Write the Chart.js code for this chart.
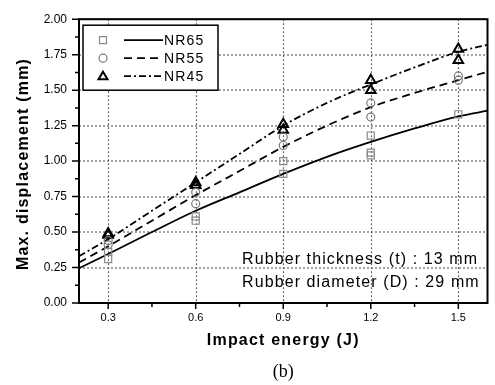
<!DOCTYPE html>
<html>
<head>
<meta charset="utf-8">
<script src="https://cdn.jsdelivr.net/npm/chart.js@4.4.0/dist/chart.umd.min.js"></script>
<style>
  html, body { margin: 0; padding: 0; background: #fff; }
  #wrap { position: relative; width: 495px; height: 385px; }
</style>
</head>
<body>
<div id="wrap"><canvas id="chart"></canvas></div>
<script>
// axis ticks
const xTicks = [0.3, 0.6, 0.9, 1.2, 1.5];
const xMinorTicks = [0.45, 0.75, 1.05, 1.35];
const yTicks = [0, 0.25, 0.5, 0.75, 1.0, 1.25, 1.5, 1.75, 2.0];
const yMinorTicks = [0.125, 0.375, 0.625, 0.875, 1.125, 1.375, 1.625, 1.875];

// fitted curves
const fitEnergy = [0.2, 0.3, 0.45, 0.6, 0.75, 0.9, 1.05, 1.2, 1.35, 1.5, 1.6];
const fitNR65 = [0.245, 0.345, 0.50, 0.65, 0.78, 0.91, 1.03, 1.135, 1.23, 1.315, 1.355];
const fitNR55 = [0.285, 0.40, 0.58, 0.76, 0.93, 1.10, 1.25, 1.38, 1.48, 1.57, 1.63];
const fitNR45 = [0.33, 0.45, 0.65, 0.85, 1.05, 1.25, 1.41, 1.54, 1.66, 1.77, 1.82];

// measured points
const nr65Energy = [0.3, 0.3, 0.6, 0.6, 0.9, 0.9, 1.2, 1.2, 1.2, 1.5];
const nr65Disp = [0.36, 0.31, 0.61, 0.58, 1.00, 0.91, 1.18, 1.06, 1.04, 1.33];
const nr55Energy = [0.3, 0.3, 0.6, 0.6, 0.9, 0.9, 1.2, 1.2, 1.5, 1.5];
const nr55Disp = [0.44, 0.41, 0.78, 0.70, 1.17, 1.11, 1.41, 1.31, 1.60, 1.57];
const nr45Energy = [0.3, 0.3, 0.6, 0.6, 0.9, 0.9, 1.2, 1.2, 1.5, 1.5];
const nr45Disp = [0.49, 0.48, 0.85, 0.83, 1.26, 1.22, 1.57, 1.50, 1.79, 1.71];

const series = ['NR65', 'NR55', 'NR45'];
const notes = ['Rubber thickness (t) : 13 mm', 'Rubber diameter (D) : 29 mm'];

const pts = (xs, ys) => xs.map((v, i) => ({ x: v, y: ys[i] }));
const FONT = "'Liberation Sans', Arial, sans-serif";

const lineDash = [[], [8, 5], [7, 3, 2, 3]];
const markerColor = ['#8a8a8a', '#7a7a7a', '#000'];

function fitSet(data, dash) {
    return { type: 'line', data: pts(fitEnergy, data), borderColor: '#000', borderWidth: 1.8, borderDash: dash,
        pointRadius: 0, fill: false, cubicInterpolationMode: 'monotone', order: 2 };
}
function measSet(xs, ys, style, color, r, w) {
    return { type: 'scatter', data: pts(xs, ys), pointStyle: style, pointRadius: r, pointHoverRadius: r,
        borderColor: color, backgroundColor: 'rgba(0,0,0,0)', pointBorderWidth: w, order: 1 };
}

function drawMarker(ctx, kind, cx, cy) {
    ctx.beginPath();
    if (kind === 0) {
        ctx.strokeStyle = markerColor[0]; ctx.lineWidth = 1.2;
        ctx.rect(cx - 3.5, cy - 3.5, 7, 7);
    } else if (kind === 1) {
        ctx.strokeStyle = markerColor[1]; ctx.lineWidth = 1.2;
        ctx.arc(cx, cy, 4, 0, Math.PI * 2);
    } else {
        ctx.strokeStyle = markerColor[2]; ctx.lineWidth = 2;
        ctx.moveTo(cx, cy - 4.5); ctx.lineTo(cx + 4.5, cy + 3); ctx.lineTo(cx - 4.5, cy + 3); ctx.closePath();
    }
    ctx.stroke();
}

// dotted grid under the data
const dottedGrid = {
    id: 'dottedGrid',
    beforeDatasetsDraw(chart) {
        const { ctx, chartArea: a, scales } = chart;
        ctx.save();
        ctx.strokeStyle = '#666';
        ctx.lineWidth = 1.2;
        ctx.setLineDash([2, 2]);
        xTicks.forEach(v => {
            const p = Math.round(scales.x.getPixelForValue(v)) + 0.5;
            ctx.beginPath(); ctx.moveTo(p, a.top); ctx.lineTo(p, a.bottom); ctx.stroke();
        });
        yTicks.forEach(v => {
            const p = Math.round(scales.y.getPixelForValue(v));
            ctx.beginPath(); ctx.moveTo(a.left, p); ctx.lineTo(a.right, p); ctx.stroke();
        });
        ctx.restore();
    }
};

const extras = {
    id: 'extras',
    afterDraw(chart) {
        const { ctx, chartArea: a, scales: { x, y } } = chart;
        ctx.save();
        ctx.setLineDash([]);
        ctx.strokeStyle = '#000';
        ctx.lineWidth = 2;
        ctx.strokeRect(a.left, a.top, a.right - a.left, a.bottom - a.top);

        // tick marks
        ctx.lineWidth = 1.5;
        ctx.beginPath();
        yTicks.forEach(v => { const p = y.getPixelForValue(v); ctx.moveTo(a.left - 7, p); ctx.lineTo(a.left, p); });
        yMinorTicks.forEach(v => { const p = y.getPixelForValue(v); ctx.moveTo(a.left - 4, p); ctx.lineTo(a.left, p); });
        xTicks.forEach(v => { const p = x.getPixelForValue(v); ctx.moveTo(p, a.bottom); ctx.lineTo(p, a.bottom + 6); });
        xMinorTicks.forEach(v => { const p = x.getPixelForValue(v); ctx.moveTo(p, a.bottom); ctx.lineTo(p, a.bottom + 4); });
        ctx.stroke();

        // legend
        const lx = a.left + 4, ly = a.top + 6;
        ctx.fillStyle = '#fff';
        ctx.fillRect(lx, ly, 135, 65);
        ctx.lineWidth = 1.5;
        ctx.strokeRect(lx, ly, 135, 65);
        ctx.font = '14px ' + FONT;
        ctx.letterSpacing = '1.2px';
        ctx.textBaseline = 'middle';
        ctx.textAlign = 'left';
        series.forEach((name, i) => {
            const ry = ly + 15 + i * 18;
            drawMarker(ctx, i, lx + 20, ry);
            ctx.beginPath();
            ctx.strokeStyle = '#000';
            ctx.lineWidth = 1.8;
            ctx.setLineDash(lineDash[i]);
            ctx.moveTo(lx + 41, ry); ctx.lineTo(lx + 80, ry);
            ctx.stroke();
            ctx.setLineDash([]);
            ctx.fillStyle = '#000';
            ctx.fillText(name, lx + 81, ry + 1);
        });

        // notes
        ctx.font = '16px ' + FONT;
        ctx.letterSpacing = '1.1px';
        ctx.fillStyle = '#000';
        notes.forEach((t, i) => ctx.fillText(t, 242, 260 + i * 23));

        // axis titles
        ctx.font = 'bold 16px ' + FONT;
        ctx.letterSpacing = '1.2px';
        ctx.textAlign = 'center';
        ctx.fillText('Impact energy (J)', (a.left + a.right) / 2, 341);
        ctx.save();
        ctx.translate(24, 164);
        ctx.rotate(-Math.PI / 2);
        ctx.fillText('Max. displacement (mm)', 0, 0);
        ctx.restore();

        ctx.letterSpacing = '0px';
        ctx.font = "18px 'Liberation Serif', 'Times New Roman', serif";
        ctx.fillText('(b)', (a.left + a.right) / 2, 372);
        ctx.restore();
    }
};

new Chart(document.getElementById('chart'), {
    type: 'scatter',
    data: {
        datasets: [
            fitSet(fitNR65, lineDash[0]),
            fitSet(fitNR55, lineDash[1]),
            fitSet(fitNR45, lineDash[2]),
            measSet(nr65Energy, nr65Disp, 'rect', markerColor[0], 5, 1.2),
            measSet(nr55Energy, nr55Disp, 'circle', markerColor[1], 4, 1.2),
            measSet(nr45Energy, nr45Disp, 'triangle', markerColor[2], 5.5, 2)
        ]
    },
    options: {
        responsive: true,
        maintainAspectRatio: false,
        animation: false,
        layout: { padding: { top: 13, right: 3, left: 0, bottom: 0 } },
        plugins: { legend: { display: false }, tooltip: { enabled: false } },
        scales: {
            x: {
                type: 'linear', min: 0.2, max: 1.6,
                afterBuildTicks: s => { s.ticks = xTicks.map(v => ({ value: v })); },
                afterFit: s => { s.height = 82; },
                ticks: { color: '#000', font: { family: FONT, size: 11 }, padding: 8, maxRotation: 0,
                    callback: v => v.toFixed(1) },
                grid: { display: false, drawTicks: false },
                border: { display: false }
            },
            y: {
                type: 'linear', min: 0, max: 2,
                afterBuildTicks: s => { s.ticks = yTicks.map(v => ({ value: v })); },
                afterFit: s => { s.width = 79; },
                ticks: { color: '#000', font: { family: FONT, size: 12 }, padding: 12,
                    callback: v => v.toFixed(2) },
                grid: { display: false, drawTicks: false },
                border: { display: false }
            }
        }
    },
    plugins: [dottedGrid, extras]
});
</script>
</body>
</html>
